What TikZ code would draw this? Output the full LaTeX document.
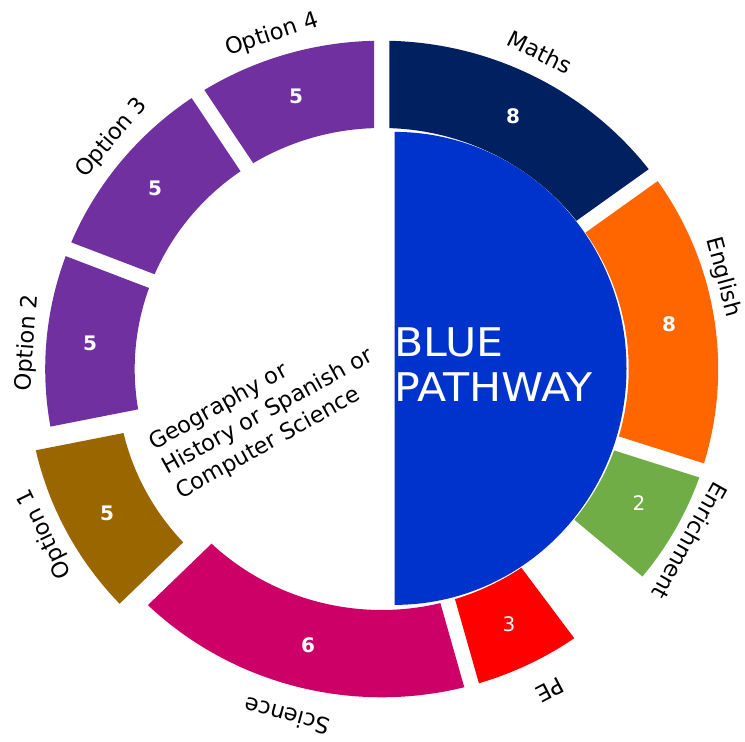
\documentclass[tikz,border=0pt]{standalone}
\usepackage{fontspec}
\setmainfont{DejaVu Sans}
\definecolor{cMaths}{HTML}{002060}
\definecolor{cEnglish}{HTML}{FF6600}
\definecolor{cEnrich}{HTML}{70AD47}
\definecolor{cPE}{HTML}{FF0000}
\definecolor{cScience}{HTML}{CC0066}
\definecolor{cOptA}{HTML}{996600}
\definecolor{cPurple}{HTML}{7030A0}
\definecolor{cBlue}{HTML}{0033CC}
\def\RingIn{241}
\def\RingOut{328.3}
\def\RingGap{7.4}
% #1 start angle (clockwise from top), #2 end angle, #3 colour, #4 explode distance
\newcommand\ringseg[4]{%
  \pgfmathsetmacro\SegPa{90-#1-asin(\RingGap/\RingIn)}%
  \pgfmathsetmacro\SegPb{90-#2+asin(\RingGap/\RingIn)}%
  \pgfmathsetmacro\SegQa{90-#1-asin(\RingGap/\RingOut)}%
  \pgfmathsetmacro\SegQb{90-#2+asin(\RingGap/\RingOut)}%
  \pgfmathsetmacro\SegMid{90-(#1+#2)/2}%
  \fill[#3, shift={(\SegMid:#4)}] (\SegPa:\RingIn)
    arc[start angle=\SegPa, end angle=\SegPb, radius=\RingIn]
    -- (\SegQb:\RingOut)
    arc[start angle=\SegQb, end angle=\SegQa, radius=\RingOut] -- cycle;}
\begin{document}
\begin{tikzpicture}[x=1pt,y=1pt,
  lab/.style={font=\fontsize{22.5}{28}\selectfont, inner sep=0pt, text=black},
  num/.style={font=\fontsize{20}{24}\selectfont\bfseries, text=white, inner sep=0pt},
  numreg/.style={font=\fontsize{20}{24}\selectfont, text=white, inner sep=0pt}]
\fill[white] (0,0) rectangle (745,742);
\useasboundingbox (0,0) rectangle (745,742);
% outer ring
\begin{scope}[shift={(381.7,373)}, xscale=1.025]
  \ringseg{0}{53.8}{cMaths}{0}
  \ringseg{53.8}{108.0}{cEnglish}{0}
  \ringseg{108.0}{130.5}{cEnrich}{0}
  \ringseg{143.8}{164.5}{cPE}{0}
  \ringseg{164.5}{225.3}{cScience}{0}
  \ringseg{225.3}{258.6}{cOptA}{19.5}
  \ringseg{258.6}{291.4}{cPurple}{0}
  \ringseg{291.4}{326.9}{cPurple}{0}
  \ringseg{326.9}{360}{cPurple}{0}
\end{scope}
% inner blue half
\fill[cBlue] (394.5,610.1) arc[start angle=90, end angle=-90, x radius=232, y radius=236.5] -- cycle;
\node[font=\fontsize{39.5}{45}\selectfont, text=white, align=left, inner sep=0pt, anchor=north west, xscale=1.08] (blue) at (394,414) {BLUE\\PATHWAY};
\node[lab, rotate=29, align=left] (geo) at (268,330) {Geography or\\History or Spanish or\\Computer Science};
% values
\node[num] (vmaths) at (513,626) {8};
\node[num] (venglish) at (669,418) {8};
\node[numreg] (venrich) at (639,239) {2};
\node[numreg] (vpe) at (509,118) {3};
\node[num] (vscience) at (308,97) {6};
\node[num] (vopta) at (107,229) {5};
\node[num] (voptb) at (90,399) {5};
\node[num] (voptc) at (155,554) {5};
\node[num] (voptd) at (296,646) {5};
% labels
\node[lab, rotate=-26.5] (lmaths) at (540,690) {Maths};
\node[lab, rotate=-74.9] (lenglish) at (723,465) {English};
\node[lab, rotate=-119.2] (lenrich) at (690,201) {Enrichment};
\node[lab, rotate=-152.4] (lpe) at (550,52) {PE};
\node[lab, rotate=164.7] (lscience) at (287,26) {Science};
\node[lab, rotate=116.1] (lopta) at (45,208) {Option 1};
\node[lab, rotate=85.8] (loptb) at (27.5,399) {Option 2};
\node[lab, rotate=49.4] (loptc) at (112,604) {Option 3};
\node[lab, rotate=18.2] (loptd) at (272,707) {Option 4};
\end{tikzpicture}
\end{document}
